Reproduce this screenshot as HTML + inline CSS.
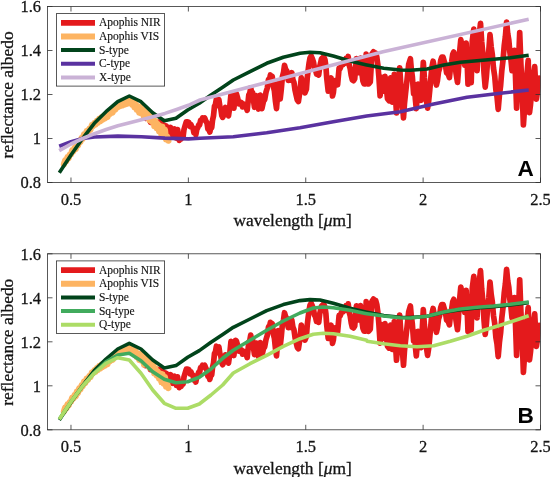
<!DOCTYPE html>
<html lang="en"><head><meta charset="utf-8"><title>Apophis reflectance spectra</title>
<style>
html,body{margin:0;padding:0;background:#fff;}
body{width:550px;height:477px;overflow:hidden;}
svg{display:block;}
text{font-family:"Liberation Serif",serif;fill:#141414;stroke:#141414;stroke-width:0.3px;}
.tk{font-size:17.6px;}
.lb{font-size:17.4px;}
.lg{font-size:11.5px;stroke-width:0.15px;}
.pl{font-family:"Liberation Sans",sans-serif;font-weight:bold;font-size:22.6px;fill:#000;stroke:none;}
</style></head>
<body>
<svg width="550" height="477" viewBox="0 0 550 477">
<defs>
<clipPath id="cA"><rect x="47.5" y="6.5" width="493.0" height="176.0"/></clipPath>
<clipPath id="cB"><rect x="47.5" y="253.8" width="493.0" height="176.0"/></clipPath>
</defs>
<rect width="550" height="477" fill="#fff"/>
<g opacity="0.999">
<g clip-path="url(#cA)">
<polyline fill="none" stroke="#e41a1c" stroke-width="5.7" stroke-linejoin="round" stroke-linecap="round" points="143.0,113.5 144.2,114.4 145.5,118.2 146.8,116.0 148.0,116.6 149.2,117.8 150.5,122.3 151.8,119.3 153.0,119.8 154.2,120.7 155.5,124.8 156.5,122.2 157.5,122.0 159.2,122.2 160.1,123.6 161.0,122.1 162.7,126.2 163.6,124.9 164.5,129.1 165.5,125.7 166.5,126.4 167.5,128.3 168.5,133.3 169.5,128.6 170.5,127.4 171.5,130.4 172.5,136.0 173.5,130.1 174.5,128.9 175.4,131.4 176.3,138.2 177.6,129.5 179.2,140.4 180.2,138.4 181.2,138.8 182.1,136.2 183.1,136.6 184.0,129.5 185.0,126.2 186.3,121.9 187.5,121.8 188.8,122.4 190.1,126.5 191.0,124.6 192.0,127.4 193.0,128.0 193.9,132.7 194.9,131.0 195.8,134.7 196.8,129.4 197.7,127.9 198.7,124.9 199.6,125.0 200.6,120.4 201.5,120.4 202.5,118.0 203.5,119.0 204.7,118.0 206.0,121.4 207.0,122.9 207.9,129.1 208.9,128.7 209.8,132.1 210.8,127.7 211.7,127.6 212.5,120.4 213.5,115.9 214.5,106.1 215.4,104.6 216.4,98.9 217.6,100.8 218.9,99.8 219.9,106.7 220.8,108.6 221.8,115.6 222.7,117.4 224.3,113.8 225.5,107.5 226.9,112.3 228.5,115.8 229.7,107.3 231.0,94.1 232.7,102.1 233.9,108.2 235.5,93.0 236.4,93.7 237.4,97.2 239.0,103.8 240.5,102.1 241.5,102.7 242.5,106.9 243.4,103.9 244.4,106.4 245.8,105.7 247.2,110.3 248.8,94.9 249.8,93.2 250.7,87.8 251.7,92.9 252.6,92.6 253.6,101.2 254.5,107.3 255.5,103.0 256.5,95.7 257.4,104.4 258.4,109.0 259.3,103.2 260.3,95.2 261.9,108.7 263.5,101.2 264.7,99.5 266.0,92.2 267.3,88.0 268.5,79.5 269.5,79.5 270.4,75.0 271.3,78.3 272.2,76.3 273.3,86.4 274.4,90.9 275.5,101.6 276.5,108.6 277.4,97.3 278.3,83.3 279.2,92.3 280.2,98.9 281.3,89.1 282.4,76.7 283.5,72.6 284.5,65.4 285.6,69.2 286.7,70.9 288.2,80.3 289.6,80.2 290.7,77.8 291.8,72.7 292.9,79.8 294.0,82.6 295.1,90.5 296.2,95.5 297.3,100.1 298.4,101.5 299.8,92.4 301.3,77.7 302.2,83.6 303.2,85.3 304.0,90.2 304.9,92.8 306.4,89.2 307.2,78.2 308.1,70.6 309.1,62.9 310.0,58.0 311.2,56.0 312.5,59.1 313.4,61.8 314.4,67.5 315.5,69.5 316.5,74.0 317.6,71.7 318.7,75.0 319.7,66.6 320.6,63.0 321.5,58.9 322.4,58.1 323.7,56.7 325.0,59.9 325.9,66.4 326.7,77.6 328.2,91.2 329.1,89.2 329.9,82.0 331.1,77.9 332.5,96.0 333.4,92.5 334.3,83.6 335.7,80.4 336.7,80.7 337.6,84.8 339.1,68.1 340.0,68.8 341.6,64.8 342.9,64.7 344.1,61.3 345.1,63.0 346.1,58.4 347.2,60.7 348.2,56.5 349.2,65.1 350.1,68.1 351.2,75.4 352.3,79.9 353.5,80.7 354.7,78.8 356.4,58.6 357.6,62.8 358.8,72.6 360.5,58.2 361.7,71.8 362.9,80.9 364.1,83.9 365.4,83.9 366.2,54.2 367.4,66.4 368.6,84.0 370.3,81.9 371.9,54.2 373.5,51.8 374.6,54.9 375.7,53.1 376.8,57.1 377.9,65.2 378.9,77.2 380.1,95.8 381.7,77.4 383.4,91.1 385.0,76.3 386.2,86.1 387.5,98.8 389.1,100.8 390.7,77.9 392.4,102.1 393.3,91.2 394.3,74.4 395.4,95.5 396.5,112.9 398.1,93.4 399.7,67.8 401.4,94.0 402.4,103.5 403.5,117.9 404.5,103.1 405.5,93.6 407.1,79.2 408.7,64.4 410.4,58.7 411.3,68.9 412.3,76.3 413.6,93.5 414.5,84.3 415.3,98.4 416.3,108.6 417.2,97.9 418.2,84.1 419.7,94.1 421.1,100.3 422.2,83.5 423.3,62.3 424.4,77.8 425.5,89.1 426.5,100.7 427.6,108.1 428.7,100.8 429.8,89.7 431.3,73.0 432.2,65.8 433.1,61.2 434.0,65.9 434.8,75.1 436.4,85.0 437.4,80.8 438.5,71.9 439.6,68.4 440.7,60.4 441.8,57.2 443.1,57.2 444.4,61.9 445.5,65.5 446.6,72.9 448.0,73.6 449.4,77.6 450.5,67.8 451.6,62.2 452.7,54.5 453.8,52.0 454.9,60.5 456.0,73.1 457.5,82.4 458.4,71.6 459.2,56.6 460.8,39.7 462.0,46.7 463.2,57.8 464.7,65.1 466.2,43.1 467.1,60.9 468.0,84.2 468.8,71.4 469.7,62.2 471.2,82.6 472.3,40.6 473.8,29.0 474.9,40.9 476.0,50.2 477.1,70.6 478.4,39.4 479.5,32.7 480.5,23.3 481.7,41.8 482.9,53.9 484.0,72.7 485.2,87.1 486.4,76.4 487.6,60.8 488.8,50.7 490.0,34.7 491.2,47.1 492.3,54.4 493.5,68.3 494.7,76.1 495.9,90.1 497.0,96.5 498.2,109.3 499.4,95.2 500.6,85.6 501.8,70.6 503.0,60.4 504.2,45.9 505.4,36.4 506.6,22.0 507.7,33.4 508.8,40.0 509.8,51.6 510.9,59.3 512.0,70.6 513.2,58.6 514.5,50.3 515.5,76.6 516.6,108.2 517.6,80.5 518.7,58.6 519.7,32.5 520.9,64.2 522.2,92.2 523.4,125.0 524.6,107.5 525.8,93.4 527.0,73.7 528.2,60.3 529.5,112.6 530.5,104.6 531.6,92.2 532.6,86.5 533.7,73.9 534.7,66.6 536.4,99.1 537.7,90.4 539.0,78.0"/>
<polyline fill="none" stroke="#fdb462" stroke-width="6.2" stroke-linejoin="round" stroke-linecap="round" points="63.9,164.2 65.1,160.5 66.3,161.2 67.5,157.2 68.6,158.2 69.8,154.6 71.0,154.3 72.1,150.5 73.3,151.3 74.5,147.9 75.7,148.9 76.8,144.4 78.0,145.5 79.2,141.1 80.4,142.0 81.5,138.2 82.7,138.7 84.0,134.3 85.3,135.5 86.6,131.3 87.9,132.6 89.2,129.0 90.5,129.6 91.8,125.3 93.1,126.0 94.5,122.9 95.6,124.4 96.8,120.9 98.0,122.7 99.1,118.9 100.3,121.2 101.5,117.5 102.7,119.5 103.8,116.3 105.0,118.3 106.2,114.8 107.5,116.9 108.8,113.4 110.1,113.8 111.4,110.9 112.7,112.4 114.0,108.3 115.3,109.6 116.6,106.2 117.9,107.1 119.1,104.4 120.3,106.0 121.4,103.2 122.6,105.3 123.8,101.9 125.0,104.4 126.1,100.9 127.3,103.7 128.5,99.8 129.7,102.5 130.8,101.3 132.0,104.6 133.2,101.9 134.4,107.3 135.5,103.8 136.7,109.6 137.9,106.1 139.1,112.5 140.2,106.6 141.4,113.4 142.7,109.9 144.0,117.3 145.3,109.1 146.6,117.0 147.9,111.8 149.2,120.1 150.5,116.0 151.8,121.8 153.1,116.1 154.3,126.1 155.5,121.3 156.7,128.2 157.8,124.1 159.0,131.3 160.2,126.1 161.4,134.7 162.5,126.9 163.7,136.4 164.9,129.7 166.1,139.3 167.2,136.7 168.4,140.7"/>
<polyline fill="none" stroke="#00441b" stroke-width="3.6" stroke-linejoin="round" stroke-linecap="butt" points="59.3,172.7 71.0,155.0 82.7,138.3 94.3,123.3 106.0,111.7 117.7,101.7 129.3,96.0 141.0,101.7 152.7,112.7 164.3,120.7 176.0,118.3 187.7,110.0 199.3,103.3 211.0,95.0 222.7,87.3 233.3,80.0 250.0,71.7 266.7,63.3 283.3,57.3 300.0,53.3 310.0,52.3 320.0,52.7 333.3,56.0 350.0,61.0 366.7,65.0 367.0,65.0 383.7,68.3 400.3,70.0 410.3,70.3 427.0,69.0 443.7,65.0 460.3,62.3 477.0,60.7 493.7,59.3 510.3,57.7 528.7,55.3"/>
<polyline fill="none" stroke="#5a32a0" stroke-width="3.6" stroke-linejoin="round" stroke-linecap="butt" points="59.2,146.2 71.0,141.8 82.7,138.5 94.5,137.0 117.9,136.1 141.4,136.7 164.9,138.1 188.4,138.9 200.0,138.3 233.3,136.7 266.7,132.7 300.0,127.7 333.3,121.7 366.7,116.0 400.3,111.7 433.7,104.0 467.0,97.3 500.3,93.3 528.7,90.0"/>
<polyline fill="none" stroke="#cab2d6" stroke-width="3.6" stroke-linejoin="round" stroke-linecap="butt" points="59.2,150.6 71.0,144.0 82.7,138.5 94.5,133.7 106.2,129.5 117.9,125.7 129.7,122.7 141.4,119.8 153.1,116.7 164.9,113.4 176.6,109.5 188.4,105.3 200.0,100.0 383.0,51.7 528.7,19.3"/>
</g>
<rect x="47.5" y="6.5" width="493.0" height="176.0" fill="none" stroke="#303030" stroke-width="0.8"/>
<path d="M70.98 182.5v-5M70.98 6.5v5M188.36 182.5v-5M188.36 6.5v5M305.74 182.5v-5M305.74 6.5v5M423.12 182.5v-5M423.12 6.5v5M540.50 182.5v-5M540.50 6.5v5M47.5 182.50h5M540.5 182.50h-5M47.5 138.50h5M540.5 138.50h-5M47.5 94.50h5M540.5 94.50h-5M47.5 50.50h5M540.5 50.50h-5M47.5 6.50h5M540.5 6.50h-5" stroke="#303030" stroke-width="0.8" fill="none"/>
<text x="71.0" y="204.9" text-anchor="middle" class="tk" textLength="20.6" lengthAdjust="spacingAndGlyphs">0.5</text>
<text x="188.4" y="204.9" text-anchor="middle" class="tk" textLength="8.25" lengthAdjust="spacingAndGlyphs">1</text>
<text x="305.7" y="204.9" text-anchor="middle" class="tk" textLength="20.6" lengthAdjust="spacingAndGlyphs">1.5</text>
<text x="423.1" y="204.9" text-anchor="middle" class="tk" textLength="8.25" lengthAdjust="spacingAndGlyphs">2</text>
<text x="540.5" y="204.9" text-anchor="middle" class="tk" textLength="20.6" lengthAdjust="spacingAndGlyphs">2.5</text>
<text x="41" y="188.4" text-anchor="end" class="tk" textLength="20.6" lengthAdjust="spacingAndGlyphs">0.8</text>
<text x="41" y="144.4" text-anchor="end" class="tk" textLength="8.25" lengthAdjust="spacingAndGlyphs">1</text>
<text x="41" y="100.4" text-anchor="end" class="tk" textLength="20.6" lengthAdjust="spacingAndGlyphs">1.2</text>
<text x="41" y="56.4" text-anchor="end" class="tk" textLength="20.6" lengthAdjust="spacingAndGlyphs">1.4</text>
<text x="41" y="12.4" text-anchor="end" class="tk" textLength="20.6" lengthAdjust="spacingAndGlyphs">1.6</text>
<text x="292.6" y="226.2" text-anchor="middle" class="lb">wavelength [<tspan font-style="italic">μ</tspan>m]</text>
<text transform="translate(13.4 94.9) rotate(-90)" text-anchor="middle" class="lb">reflectance albedo</text>
<text x="525.7" y="175.8" text-anchor="middle" class="pl">A</text>
<rect x="56.5" y="13.6" width="108.1" height="72.5" fill="#fff" stroke="#303030" stroke-width="0.8"/>
<line x1="61" y1="22.8" x2="95" y2="22.8" stroke="#e41a1c" stroke-width="5.7"/>
<text x="98.9" y="26.2" class="lg">Apophis NIR</text>
<line x1="61" y1="36.5" x2="95" y2="36.5" stroke="#fdb462" stroke-width="5.9"/>
<text x="98.9" y="39.9" class="lg">Apophis VIS</text>
<line x1="61" y1="50.1" x2="95" y2="50.1" stroke="#00441b" stroke-width="4.0"/>
<text x="98.9" y="53.6" class="lg">S-type</text>
<line x1="61" y1="63.8" x2="95" y2="63.8" stroke="#5a32a0" stroke-width="4.0"/>
<text x="98.9" y="67.2" class="lg">C-type</text>
<line x1="61" y1="77.4" x2="95" y2="77.4" stroke="#cab2d6" stroke-width="4.0"/>
<text x="98.9" y="80.9" class="lg">X-type</text>
<g clip-path="url(#cB)">
<polyline fill="none" stroke="#e41a1c" stroke-width="5.7" stroke-linejoin="round" stroke-linecap="round" points="143.0,360.8 144.2,361.7 145.5,365.5 146.8,363.3 148.0,363.9 149.2,365.1 150.5,369.6 151.8,366.6 153.0,367.1 154.2,368.0 155.5,372.1 156.5,369.5 157.5,369.3 159.2,369.5 160.1,370.9 161.0,369.4 162.7,373.5 163.6,372.2 164.5,376.4 165.5,373.0 166.5,373.7 167.5,375.6 168.5,380.6 169.5,375.9 170.5,374.7 171.5,377.7 172.5,383.3 173.5,377.4 174.5,376.2 175.4,378.7 176.3,385.5 177.6,376.8 179.2,387.7 180.2,385.7 181.2,386.1 182.1,383.5 183.1,383.9 184.0,376.8 185.0,373.5 186.3,369.2 187.5,369.1 188.8,369.7 190.1,373.8 191.0,371.9 192.0,374.7 193.0,375.3 193.9,380.0 194.9,378.3 195.8,382.0 196.8,376.7 197.7,375.2 198.7,372.2 199.6,372.3 200.6,367.7 201.5,367.7 202.5,365.3 203.5,366.3 204.7,365.3 206.0,368.7 207.0,370.2 207.9,376.4 208.9,376.0 209.8,379.4 210.8,375.0 211.7,374.9 212.5,367.7 213.5,363.2 214.5,353.4 215.4,351.9 216.4,346.2 217.6,348.1 218.9,347.1 219.9,354.0 220.8,355.9 221.8,362.9 222.7,364.7 224.3,361.1 225.5,354.8 226.9,359.6 228.5,363.1 229.7,354.6 231.0,341.4 232.7,349.4 233.9,355.5 235.5,340.3 236.4,341.0 237.4,344.5 239.0,351.1 240.5,349.4 241.5,350.0 242.5,354.2 243.4,351.2 244.4,353.7 245.8,353.0 247.2,357.6 248.8,342.2 249.8,340.5 250.7,335.1 251.7,340.2 252.6,339.9 253.6,348.5 254.5,354.6 255.5,350.3 256.5,343.0 257.4,351.7 258.4,356.3 259.3,350.5 260.3,342.5 261.9,356.0 263.5,348.5 264.7,346.8 266.0,339.5 267.3,335.3 268.5,326.8 269.5,326.8 270.4,322.3 271.3,325.6 272.2,323.6 273.3,333.7 274.4,338.2 275.5,348.9 276.5,355.9 277.4,344.6 278.3,330.6 279.2,339.6 280.2,346.2 281.3,336.4 282.4,324.0 283.5,319.9 284.5,312.7 285.6,316.5 286.7,318.2 288.2,327.6 289.6,327.5 290.7,325.1 291.8,320.0 292.9,327.1 294.0,329.9 295.1,337.8 296.2,342.8 297.3,347.4 298.4,348.8 299.8,339.7 301.3,325.0 302.2,330.9 303.2,332.6 304.0,337.5 304.9,340.1 306.4,336.5 307.2,325.5 308.1,317.9 309.1,310.2 310.0,305.3 311.2,303.3 312.5,306.4 313.4,309.1 314.4,314.8 315.5,316.8 316.5,321.3 317.6,319.0 318.7,322.3 319.7,313.9 320.6,310.3 321.5,306.2 322.4,305.4 323.7,304.0 325.0,307.2 325.9,313.7 326.7,324.9 328.2,338.5 329.1,336.5 329.9,329.3 331.1,325.2 332.5,343.3 333.4,339.8 334.3,330.9 335.7,327.7 336.7,328.0 337.6,332.1 339.1,315.4 340.0,316.1 341.6,312.1 342.9,312.0 344.1,308.6 345.1,310.3 346.1,305.7 347.2,308.0 348.2,303.8 349.2,312.4 350.1,315.4 351.2,322.7 352.3,327.2 353.5,328.0 354.7,326.1 356.4,305.9 357.6,310.1 358.8,319.9 360.5,305.5 361.7,319.1 362.9,328.2 364.1,331.2 365.4,331.2 366.2,301.5 367.4,313.7 368.6,331.3 370.3,329.2 371.9,301.5 373.5,299.1 374.6,302.2 375.7,300.4 376.8,304.4 377.9,312.5 378.9,324.5 380.1,343.1 381.7,324.7 383.4,338.4 385.0,323.6 386.2,333.4 387.5,346.1 389.1,348.1 390.7,325.2 392.4,349.4 393.3,338.5 394.3,321.7 395.4,342.8 396.5,360.2 398.1,340.7 399.7,315.1 401.4,341.3 402.4,350.8 403.5,365.2 404.5,350.4 405.5,340.9 407.1,326.5 408.7,311.7 410.4,306.0 411.3,316.2 412.3,323.6 413.6,340.8 414.5,331.6 415.3,345.7 416.3,355.9 417.2,345.2 418.2,331.4 419.7,341.4 421.1,347.6 422.2,330.8 423.3,309.6 424.4,325.1 425.5,336.4 426.5,348.0 427.6,355.4 428.7,348.1 429.8,337.0 431.3,320.3 432.2,313.1 433.1,308.5 434.0,313.2 434.8,322.4 436.4,332.3 437.4,328.1 438.5,319.2 439.6,315.7 440.7,307.7 441.8,304.5 443.1,304.5 444.4,309.2 445.5,312.8 446.6,320.2 448.0,320.9 449.4,324.9 450.5,315.1 451.6,309.5 452.7,301.8 453.8,299.3 454.9,307.8 456.0,320.4 457.5,329.7 458.4,318.9 459.2,303.9 460.8,287.0 462.0,294.0 463.2,305.1 464.7,312.4 466.2,290.4 467.1,308.2 468.0,331.5 468.8,318.7 469.7,309.5 471.2,329.9 472.3,287.9 473.8,276.3 474.9,288.2 476.0,297.5 477.1,317.9 478.4,286.7 479.5,280.0 480.5,270.6 481.7,289.1 482.9,301.2 484.0,320.0 485.2,334.4 486.4,323.7 487.6,308.1 488.8,298.0 490.0,282.0 491.2,294.4 492.3,301.7 493.5,315.6 494.7,323.4 495.9,337.4 497.0,343.8 498.2,356.6 499.4,342.5 500.6,332.9 501.8,317.9 503.0,307.7 504.2,293.2 505.4,283.7 506.6,269.3 507.7,280.7 508.8,287.3 509.8,298.9 510.9,306.6 512.0,317.9 513.2,305.9 514.5,297.6 515.5,323.9 516.6,355.5 517.6,327.8 518.7,305.9 519.7,279.8 520.9,311.5 522.2,339.5 523.4,372.3 524.6,354.8 525.8,340.7 527.0,321.0 528.2,307.6 529.5,359.9 530.5,351.9 531.6,339.5 532.6,333.8 533.7,321.2 534.7,313.9 536.4,346.4 537.7,337.7 539.0,325.3"/>
<polyline fill="none" stroke="#fdb462" stroke-width="6.2" stroke-linejoin="round" stroke-linecap="round" points="63.9,411.5 65.1,407.8 66.3,408.5 67.5,404.5 68.6,405.5 69.8,401.9 71.0,401.6 72.1,397.8 73.3,398.6 74.5,395.2 75.7,396.2 76.8,391.7 78.0,392.8 79.2,388.4 80.4,389.3 81.5,385.5 82.7,386.0 84.0,381.6 85.3,382.8 86.6,378.6 87.9,379.9 89.2,376.3 90.5,376.9 91.8,372.6 93.1,373.3 94.5,370.2 95.6,371.7 96.8,368.2 98.0,370.0 99.1,366.2 100.3,368.5 101.5,364.8 102.7,366.8 103.8,363.6 105.0,365.6 106.2,362.1 107.5,364.2 108.8,360.7 110.1,361.1 111.4,358.2 112.7,359.7 114.0,355.6 115.3,356.9 116.6,353.5 117.9,354.4 119.1,351.7 120.3,353.3 121.4,350.5 122.6,352.6 123.8,349.2 125.0,351.7 126.1,348.2 127.3,351.0 128.5,347.1 129.7,349.8 130.8,348.6 132.0,351.9 133.2,349.2 134.4,354.6 135.5,351.1 136.7,356.9 137.9,353.4 139.1,359.8 140.2,353.9 141.4,360.7 142.7,357.2 144.0,364.6 145.3,356.4 146.6,364.3 147.9,359.1 149.2,367.4 150.5,363.3 151.8,369.1 153.1,363.4 154.3,373.4 155.5,368.6 156.7,375.5 157.8,371.4 159.0,378.6 160.2,373.4 161.4,382.0 162.5,374.2 163.7,383.7 164.9,377.0 166.1,386.6 167.2,384.0 168.4,388.0"/>
<polyline fill="none" stroke="#00441b" stroke-width="3.6" stroke-linejoin="round" stroke-linecap="butt" points="59.3,420.0 71.0,402.3 82.7,385.6 94.3,370.6 106.0,359.0 117.7,349.0 129.3,343.3 141.0,349.0 152.7,360.0 164.3,368.0 176.0,365.6 187.7,357.3 199.3,350.6 211.0,342.3 222.7,334.6 233.3,327.3 250.0,319.0 266.7,310.6 283.3,304.6 300.0,300.6 310.0,299.6 320.0,300.0 333.3,303.3 350.0,308.3 366.7,312.3 367.0,312.3 383.7,315.6 400.3,317.3 410.3,317.6 427.0,316.3 443.7,312.3 460.3,309.6 477.0,308.0 493.7,306.6 510.3,305.0 528.7,302.6"/>
<polyline fill="none" stroke="#41ab5d" stroke-width="3.6" stroke-linejoin="round" stroke-linecap="butt" points="59.3,419.3 71.0,401.7 82.7,386.0 94.3,372.7 106.0,361.7 117.7,355.0 129.3,353.3 141.0,360.7 152.7,371.7 164.3,379.3 176.0,382.7 187.7,381.7 199.3,377.3 211.0,369.0 222.7,358.3 233.3,350.3 250.0,340.3 266.7,330.3 283.3,321.0 300.0,313.0 313.3,308.0 323.3,307.0 333.3,307.7 350.0,310.3 366.7,313.7 367.0,313.7 383.7,316.0 400.3,317.7 410.3,318.0 427.0,316.3 443.7,312.0 460.3,309.0 477.0,307.3 493.7,306.0 510.3,304.3 528.7,302.0"/>
<polyline fill="none" stroke="#acdc66" stroke-width="3.6" stroke-linejoin="round" stroke-linecap="butt" points="59.3,419.3 71.0,401.7 82.7,386.0 94.3,373.3 106.0,363.3 117.7,357.7 129.3,360.0 141.0,373.3 152.7,390.0 164.3,403.3 176.0,408.3 187.7,408.3 199.3,404.0 211.0,395.0 222.7,385.0 233.3,373.0 250.0,363.7 266.7,355.3 283.3,346.3 300.0,338.7 313.3,334.3 323.3,333.3 333.3,333.7 350.0,336.3 366.7,340.3 367.0,341.3 383.7,343.7 400.3,345.7 417.0,346.7 433.7,345.7 450.3,341.3 467.0,336.3 483.7,330.3 500.3,325.3 517.0,319.7 528.7,315.7"/>
</g>
<rect x="47.5" y="253.8" width="493.0" height="176.0" fill="none" stroke="#303030" stroke-width="0.8"/>
<path d="M70.98 429.8v-5M70.98 253.8v5M188.36 429.8v-5M188.36 253.8v5M305.74 429.8v-5M305.74 253.8v5M423.12 429.8v-5M423.12 253.8v5M540.50 429.8v-5M540.50 253.8v5M47.5 429.80h5M540.5 429.80h-5M47.5 385.80h5M540.5 385.80h-5M47.5 341.80h5M540.5 341.80h-5M47.5 297.80h5M540.5 297.80h-5M47.5 253.80h5M540.5 253.80h-5" stroke="#303030" stroke-width="0.8" fill="none"/>
<text x="71.0" y="452.2" text-anchor="middle" class="tk" textLength="20.6" lengthAdjust="spacingAndGlyphs">0.5</text>
<text x="188.4" y="452.2" text-anchor="middle" class="tk" textLength="8.25" lengthAdjust="spacingAndGlyphs">1</text>
<text x="305.7" y="452.2" text-anchor="middle" class="tk" textLength="20.6" lengthAdjust="spacingAndGlyphs">1.5</text>
<text x="423.1" y="452.2" text-anchor="middle" class="tk" textLength="8.25" lengthAdjust="spacingAndGlyphs">2</text>
<text x="540.5" y="452.2" text-anchor="middle" class="tk" textLength="20.6" lengthAdjust="spacingAndGlyphs">2.5</text>
<text x="41" y="435.7" text-anchor="end" class="tk" textLength="20.6" lengthAdjust="spacingAndGlyphs">0.8</text>
<text x="41" y="391.7" text-anchor="end" class="tk" textLength="8.25" lengthAdjust="spacingAndGlyphs">1</text>
<text x="41" y="347.7" text-anchor="end" class="tk" textLength="20.6" lengthAdjust="spacingAndGlyphs">1.2</text>
<text x="41" y="303.7" text-anchor="end" class="tk" textLength="20.6" lengthAdjust="spacingAndGlyphs">1.4</text>
<text x="41" y="259.7" text-anchor="end" class="tk" textLength="20.6" lengthAdjust="spacingAndGlyphs">1.6</text>
<text x="292.6" y="473.5" text-anchor="middle" class="lb">wavelength [<tspan font-style="italic">μ</tspan>m]</text>
<text transform="translate(13.4 342.2) rotate(-90)" text-anchor="middle" class="lb">reflectance albedo</text>
<text x="525.7" y="423.1" text-anchor="middle" class="pl">B</text>
<rect x="56.5" y="260.90000000000003" width="108.1" height="72.5" fill="#fff" stroke="#303030" stroke-width="0.8"/>
<line x1="61" y1="270.1" x2="95" y2="270.1" stroke="#e41a1c" stroke-width="5.7"/>
<text x="98.9" y="273.6" class="lg">Apophis NIR</text>
<line x1="61" y1="283.8" x2="95" y2="283.8" stroke="#fdb462" stroke-width="5.9"/>
<text x="98.9" y="287.2" class="lg">Apophis VIS</text>
<line x1="61" y1="297.4" x2="95" y2="297.4" stroke="#00441b" stroke-width="4.0"/>
<text x="98.9" y="300.9" class="lg">S-type</text>
<line x1="61" y1="311.1" x2="95" y2="311.1" stroke="#41ab5d" stroke-width="4.0"/>
<text x="98.9" y="314.5" class="lg">Sq-type</text>
<line x1="61" y1="324.7" x2="95" y2="324.7" stroke="#acdc66" stroke-width="4.0"/>
<text x="98.9" y="328.2" class="lg">Q-type</text>
</g>
</svg>
</body></html>
